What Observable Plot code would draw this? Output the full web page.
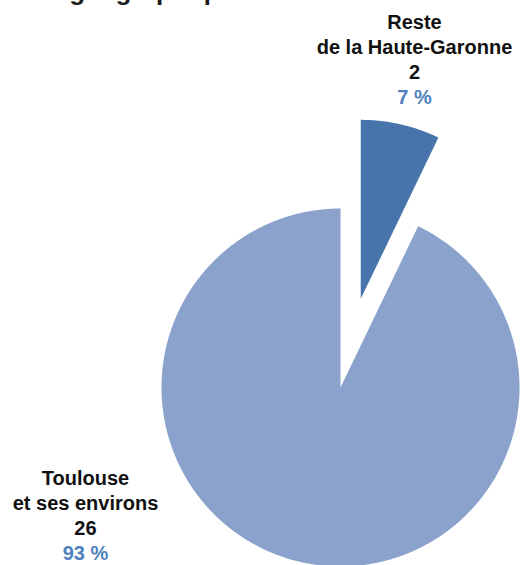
<!DOCTYPE html>
<html><head><meta charset="utf-8">
<script src="https://cdn.jsdelivr.net/npm/d3@7"></script>
<script src="https://cdn.jsdelivr.net/npm/@observablehq/plot@0.6"></script>
<style>
body{margin:0;background:#fff;}
#wrap{position:relative;width:520px;height:565px;overflow:hidden;font-family:"Liberation Sans",Arial,sans-serif;}
#title{position:absolute;left:0;top:-22px;font-weight:bold;font-size:26px;line-height:26px;color:#1a1a1a;white-space:nowrap;}
#chart{position:absolute;left:0;top:0;}
</style>
</head><body>
<div id="wrap"><div id="chart"></div><div id="title">Zone géographique</div></div>
<script>
// Data
const categories = ["Reste\nde la Haute-Garonne", "Toulouse\net ses environs"];
const counts = [2, 26];
const percents = ["7 %", "93 %"];
// Styles
const colors = ["#4674ab", "#8aa2cc"];
const explode = [0.508, 0];
const labelLayout = [{lx: 0.4134, ly: 2.1047}, {lx: -1.4246, ly: -0.4483}];

const rows = categories.map((c, i) => ({cat: c, count: counts[i], pct: percents[i]}));
const arcs = d3.pie().sort(null).value(d => d.count)(rows);

const pts = [];
arcs.forEach((a, i) => {
  const mid = (a.startAngle + a.endAngle) / 2;
  const ox = explode[i] * Math.sin(mid), oy = explode[i] * Math.cos(mid);
  const cat = a.data.cat;
  pts.push({cat, x: ox, y: oy});
  const n = Math.max(2, Math.ceil((a.endAngle - a.startAngle) / 0.005));
  for (let k = 0; k <= n; k++) {
    const t = a.startAngle + (a.endAngle - a.startAngle) * k / n;
    pts.push({cat, x: ox + Math.sin(t), y: oy + Math.cos(t)});
  }
  pts.push({cat, x: ox, y: oy});
});

const labels = rows.map((r, i) => ({...r, ...labelLayout[i], name: r.cat + "\n" + r.count}));

const R = 179, CX = 340, CY = 387, W = 520, H = 565;
const plot = Plot.plot({
  width: W, height: H,
  margin: 0,
  x: {domain: [-CX / R, (W - CX) / R], range: [0, W], axis: null},
  y: {domain: [(CY - H) / R, CY / R], range: [H, 0], axis: null},
  color: {domain: categories, range: colors},
  style: {fontFamily: "'Liberation Sans', Arial, sans-serif", background: "white"},
  marks: [
    Plot.line(pts, {x: "x", y: "y", z: "cat", fill: "cat", stroke: "none", curve: "linear"}),
    Plot.text(labels, {x: "lx", y: "ly", text: "name", fontWeight: "bold", fontSize: 20, lineHeight: 1.25, lineAnchor: "top", fill: "#111", textAnchor: "middle"}),
    Plot.text(labels, {x: "lx", y: "ly", text: "pct", dy: 75, fontWeight: "bold", fontSize: 20, lineHeight: 1.25, lineAnchor: "top", fill: "#4f81bd", textAnchor: "middle"})
  ]
});
document.getElementById("chart").appendChild(plot);
</script>
</body></html>
